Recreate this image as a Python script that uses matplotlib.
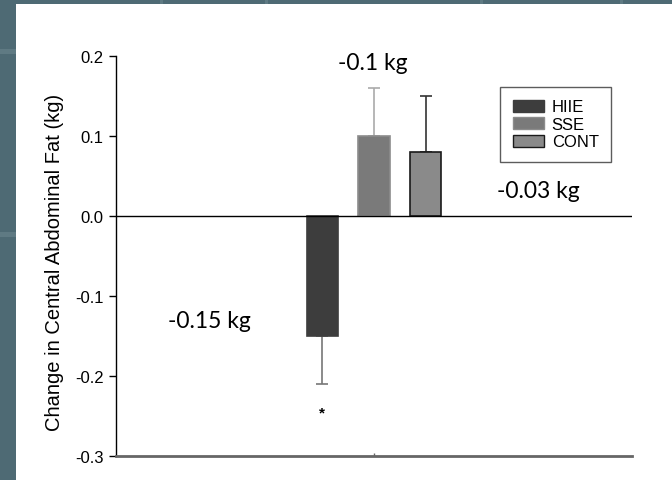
import matplotlib
matplotlib.use("Agg")
import matplotlib.pyplot as plt
from matplotlib.patches import Rectangle, Patch
import numpy as np

groups = ["HIIE", "SSE", "CONT"]
values = [-0.15, 0.10, 0.08]
errors = [0.06, 0.06, 0.07]
colors = ["#3d3d3d", "#7a7a7a", "#8a8a8a"]
edges = ["#3d3d3d", "#8c8c8c", "#1a1a1a"]
err_colors = ["#777777", "#aaaaaa", "#333333"]
yticks = [-0.3, -0.2, -0.1, 0.0, 0.1, 0.2]
ytick_labels = ["-0.3", "-0.2", "-0.1", "0.0", "0.1", "0.2"]
annotations = ["-0.15 kg", "-0.1 kg", "-0.03 kg"]
ylabel = "Change in Central Abdominal Fat (kg)"

W, H = 672, 481
fig = plt.figure(figsize=(W / 100, H / 100), dpi=100)
fig.patch.set_facecolor("#4e6a74")
# faint lighter bands in the background
for yy in [52, 235]:
    fig.patches.append(Rectangle((0, 1 - (yy + 3) / H), 16 / W, 5 / H, transform=fig.transFigure,
                                 facecolor="#5f7a83", edgecolor="none", zorder=0))
for xx in [160, 265, 480, 620]:
    fig.patches.append(Rectangle((xx / W, 1 - 5 / H), 3 / W, 5 / H, transform=fig.transFigure,
                                 facecolor="#5f7a83", edgecolor="none", zorder=0))
fig.patches.append(Rectangle((16 / W, 0), 1 - 16 / W, 1 - 5 / H, transform=fig.transFigure,
                             facecolor="white", edgecolor="none", zorder=1))

ax = fig.add_axes([116 / W, 1 - 457 / H, (632 - 116) / W, (457 - 57) / H])
ax.set_zorder(2)
ax.patch.set_alpha(0)

x = np.array([-1, 0, 1])
for i in range(3):
    ax.bar(x[i], values[i], width=0.61, color=colors[i], edgecolor=edges[i], linewidth=1.2, zorder=3)
    sign = 1 if values[i] >= 0 else -1
    ax.errorbar(x[i], values[i], yerr=[[0] if sign > 0 else [errors[i]], [errors[i]] if sign > 0 else [0]],
                fmt="none", ecolor=err_colors[i], elinewidth=1.2, capsize=4.5, capthick=1.2, zorder=2)

ax.axhline(0, color="black", linewidth=1.0, zorder=4)
ax.set_xlim(-5, 5)
ax.set_ylim(-0.3, 0.2)
ax.set_yticks(yticks)
ax.set_yticklabels(ytick_labels, family="Liberation Sans", fontsize=12)
ax.set_xticks([0])
ax.set_xticklabels([""])
ax.tick_params(axis="x", length=2, width=1, color="#666666", direction="in")
ax.tick_params(axis="y", length=5, width=1, direction="out", pad=4)
for s in ["top", "right"]:
    ax.spines[s].set_visible(False)
ax.spines["left"].set_linewidth(1.0)
ax.spines["bottom"].set_color("#666666")
ax.spines["bottom"].set_linewidth(2.0)
ax.set_ylabel(ylabel, family="Liberation Sans", fontsize=14.5, labelpad=6)
ax.yaxis.set_label_coords((55 - 116) / 516, 0.5 - 5 / 400)
ax.yaxis.label.set_va("center")

ax.text(x[0], -0.245, "*", ha="center", va="center", fontsize=11, family="Liberation Sans", fontweight="bold")

handles = [Patch(facecolor=colors[i], edgecolor=edges[i], label=groups[i]) for i in range(3)]
leg = ax.legend(handles=handles, loc="upper left", bbox_to_anchor=((500 - 116) / 516, (457 - 88) / 400),
                frameon=True, fancybox=False, edgecolor="#333333", prop={"family": "Liberation Sans", "size": 12},
                handlelength=1.9, handleheight=0.7, handletextpad=0.45, labelspacing=0.15,
                borderpad=0.75, borderaxespad=0)
leg.get_frame().set_linewidth(1.0)

ann_pos = [(209, 322), (373, 63), (538, 192)]
for (px, py), t in zip(ann_pos, annotations):
    fig.text(px / W, 1 - py / H, t, ha="center", va="center", fontsize=16.5, family="Lato", zorder=5)

fig.savefig("out.png", dpi=100, facecolor=fig.get_facecolor())
